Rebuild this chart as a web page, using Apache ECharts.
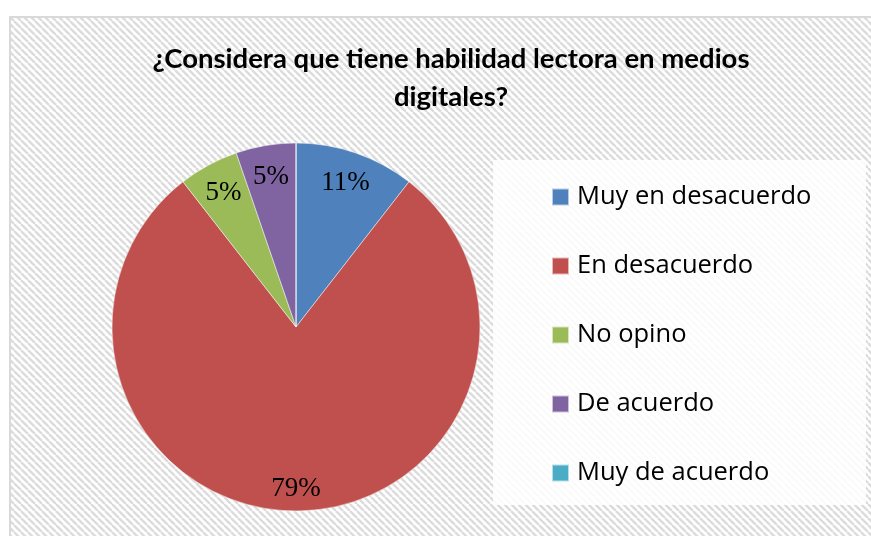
<!DOCTYPE html>
<html>
<head>
<meta charset="utf-8">
<script src="https://cdn.jsdelivr.net/npm/echarts@6/dist/echarts.min.js"></script>
<style>
  html, body { margin: 0; padding: 0; background: #fff; }
  #chart { width: 871px; height: 536px; }
</style>
</head>
<body>
<div id="chart"></div>
<script>
// Respuestas (n = 19), mostradas como porcentajes redondeados
const categories = ['Muy en desacuerdo', 'En desacuerdo', 'No opino', 'De acuerdo', 'Muy de acuerdo']
const values = [2, 15, 1, 1, 0]
const colors = ['#4f81bd', '#c0504d', '#9bbb59', '#8064a2', '#4bacc6']
const titleText = '¿Considera que tiene habilidad lectora en medios\ndigitales?'

// patrón de rayas diagonales del fondo
function makeHatch() {
  const c = document.createElement('canvas')
  c.width = 7
  c.height = 7
  const ctx = c.getContext('2d')
  ctx.fillStyle = '#ffffff'
  ctx.fillRect(0, 0, 7, 7)
  ctx.strokeStyle = '#dcdcdc'
  ctx.lineWidth = 2.4
  ctx.beginPath()
  for (let k = -7; k <= 14; k += 7) {
    ctx.moveTo(k, 0)
    ctx.lineTo(k + 7, 7)
  }
  ctx.stroke()
  return c
}

const pieData = categories.map((name, i) => ({
  name,
  value: values[i],
  itemStyle: { color: colors[i] }
}))

const maxIdx = values.indexOf(Math.max(...values))
const pctLabel = p => (p.value > 0 ? Math.round(p.percent) + '%' : '')

const chart = echarts.init(document.getElementById('chart'))
chart.setOption({
  backgroundColor: '#fff',
  animation: false,
  graphic: [
    {
      type: 'rect',
      z: -10,
      shape: { x: 10, y: 17, width: 880, height: 540 },
      style: { fill: { image: makeHatch(), repeat: 'repeat' }, stroke: '#d9d9d9', lineWidth: 2 }
    },
    {
      type: 'rect',
      z: -9,
      shape: { x: 493, y: 160, width: 373, height: 345 },
      style: { fill: 'rgba(255,255,255,0.85)' }
    }
  ],
  title: {
    text: titleText,
    left: 446,
    top: 35,
    textAlign: 'center',
    textStyle: {
      fontFamily: 'Lato',
      fontWeight: 'bold',
      fontSize: 27.5,
      lineHeight: 38,
      color: '#000'
    }
  },
  legend: {
    orient: 'vertical',
    left: 551,
    top: 184,
    padding: 0,
    itemWidth: 17,
    itemHeight: 17,
    itemGap: 43,
    icon: 'rect',
    data: categories,
    textStyle: { fontFamily: 'Open Sans', fontSize: 25.5, color: '#000', padding: [0, 0, 0, 3] }
  },
  series: [
    {
      type: 'pie',
      center: [296, 327],
      radius: 184,
      startAngle: 90,
      clockwise: true,
      data: pieData,
      label: { show: false },
      labelLine: { show: false },
      itemStyle: { borderColor: 'rgba(255,255,255,0.6)', borderWidth: 0.8 },
      emphasis: { disabled: true }
    },
    {
      // serie transparente solo para colocar las etiquetas cerca del borde
      type: 'pie',
      center: [296, 327],
      radius: [115, 184],
      startAngle: 90,
      clockwise: true,
      silent: true,
      data: pieData.map((d, i) => ({
        name: d.name,
        value: d.value,
        itemStyle: { color: 'rgba(0,0,0,0)' },
        label: i === maxIdx ? { offset: [0, 9] } : undefined
      })),
      itemStyle: { borderWidth: 0 },
      label: {
        show: true,
        position: 'inside',
        formatter: pctLabel,
        fontFamily: 'Liberation Serif',
        fontSize: 27,
        color: '#000'
      },
      labelLine: { show: false },
      emphasis: { disabled: true }
    }
  ]
})
</script>
</body>
</html>
